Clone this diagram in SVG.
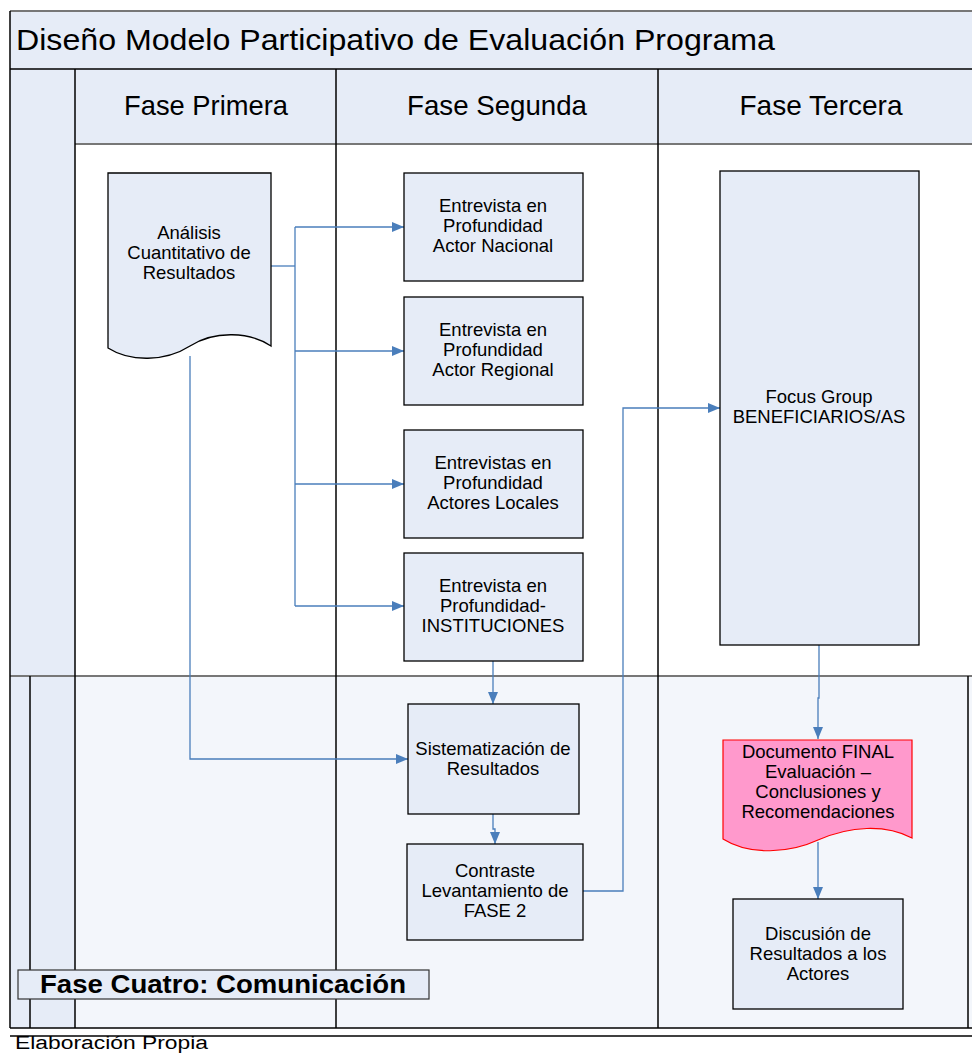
<svg xmlns="http://www.w3.org/2000/svg" width="972" height="1053" viewBox="0 0 972 1053">
<defs>
<style>
.t{font-family:"Liberation Sans",Arial,sans-serif;fill:#000;text-anchor:middle}
.n{font-size:18.5px}
.h{font-size:28px}
.node{fill:#E6ECF7;stroke:#000;stroke-width:1.3}
.c{fill:none;stroke:#4A7EBB;stroke-width:1.3}
.ln{stroke:#000;stroke-width:1.5;fill:none}
.gl{stroke:#777;stroke-width:2;fill:none}
</style>
<marker id="a" markerWidth="12" markerHeight="10" refX="12" refY="5" orient="auto" markerUnits="userSpaceOnUse">
<path d="M0,0 L12,5 L0,10 Z" fill="#4A7EBB"/>
</marker>
</defs>
<rect width="972" height="1053" fill="#fff"/>
<g id="pool">
<rect x="10" y="11" width="962" height="58" fill="#E6ECF7"/>
<line x1="10" y1="11" x2="972" y2="11" class="gl"/>
<rect x="10" y="69" width="962" height="75" fill="#E6ECF7"/>
<rect x="10" y="144" width="65" height="532" fill="#E6ECF7"/>
<rect x="10" y="676" width="962" height="352" fill="#F3F6FB"/>
<rect x="10" y="676" width="65" height="352" fill="#E6ECF7"/>
<line x1="10" y1="69" x2="972" y2="69" class="ln" stroke-width="2"/>
<line x1="75" y1="144" x2="972" y2="144" class="gl" stroke-width="1.5"/>
<line x1="10" y1="676" x2="972" y2="676" class="gl" stroke-width="2.5"/>
<line x1="10" y1="11" x2="10" y2="1028" class="ln" stroke-width="2"/>
<line x1="75" y1="69" x2="75" y2="1028" class="ln"/>
<line x1="336" y1="69" x2="336" y2="1028" class="ln"/>
<line x1="658" y1="69" x2="658" y2="1028" class="ln"/>
<line x1="30" y1="676" x2="30" y2="1028" class="ln" stroke="#555"/>
<line x1="968" y1="676" x2="968" y2="1028" class="ln" stroke="#555"/>
<line x1="10" y1="1028" x2="972" y2="1028" class="ln" stroke="#333" stroke-width="2.5"/>
<line x1="10" y1="1036" x2="972" y2="1036" class="ln" stroke="#333" stroke-width="1"/>
<text x="16" y="50" style="font-family:'Liberation Sans',Arial,sans-serif;font-size:30px" textLength="759" lengthAdjust="spacingAndGlyphs">Diseño Modelo Participativo de Evaluación Programa</text>
<text x="206" y="115" class="t h" textLength="164" lengthAdjust="spacingAndGlyphs">Fase Primera</text>
<text x="497" y="115" class="t h" textLength="180" lengthAdjust="spacingAndGlyphs">Fase Segunda</text>
<text x="821" y="115" class="t h" textLength="163" lengthAdjust="spacingAndGlyphs">Fase Tercera</text>
<text x="15" y="1049" style="font-family:'Liberation Sans',Arial,sans-serif;font-size:18px" textLength="193" lengthAdjust="spacingAndGlyphs">Elaboración Propia</text>
</g>
<g id="connectors">
<polyline class="c" points="271,266 295,266"/>
<polyline class="c" points="295,227 295,606"/>
<polyline class="c" points="295,227 404,227" marker-end="url(#a)"/>
<polyline class="c" points="295,351 404,351" marker-end="url(#a)"/>
<polyline class="c" points="295,484 404,484" marker-end="url(#a)"/>
<polyline class="c" points="295,606 404,606" marker-end="url(#a)"/>
<polyline class="c" points="190,356 190,759 408,759" marker-end="url(#a)"/>
<polyline class="c" points="493,661 493,704" marker-end="url(#a)"/>
<polyline class="c" points="493,814 493,829 495,829 495,844" marker-end="url(#a)"/>
<polyline class="c" points="583,891 623,891 623,408 720,408" marker-end="url(#a)"/>
<polyline class="c" points="819,645 819,698 818,698 818,739" marker-end="url(#a)"/>
<polyline class="c" points="818,842 818,899" marker-end="url(#a)"/>
</g>
<g id="analisis">
<path class="node" d="M108,173 H271 V346 C250,332 215,330 190,346 C165,362 130,362 108,348 Z"/>
<text class="t n" x="189" y="239">Análisis</text>
<text class="t n" x="189" y="259">Cuantitativo de</text>
<text class="t n" x="189" y="279">Resultados</text>
</g>
<g id="nacional">
<rect class="node" x="404" y="173" width="179" height="108"/>
<text class="t n" x="493" y="212">Entrevista en</text>
<text class="t n" x="493" y="232">Profundidad</text>
<text class="t n" x="493" y="252">Actor Nacional</text>
</g>
<g id="regional">
<rect class="node" x="404" y="297" width="179" height="108"/>
<text class="t n" x="493" y="336">Entrevista en</text>
<text class="t n" x="493" y="356">Profundidad</text>
<text class="t n" x="493" y="376">Actor Regional</text>
</g>
<g id="locales">
<rect class="node" x="404" y="430" width="179" height="108"/>
<text class="t n" x="493" y="469">Entrevistas en</text>
<text class="t n" x="493" y="489">Profundidad</text>
<text class="t n" x="493" y="509">Actores Locales</text>
</g>
<g id="instituciones">
<rect class="node" x="404" y="553" width="179" height="108"/>
<text class="t n" x="493" y="592">Entrevista en</text>
<text class="t n" x="493" y="612">Profundidad-</text>
<text class="t n" x="493" y="632">INSTITUCIONES</text>
</g>
<g id="focus">
<rect class="node" x="720" y="171" width="199" height="474"/>
<text class="t n" x="819" y="403">Focus Group</text>
<text class="t n" x="819" y="423">BENEFICIARIOS/AS</text>
</g>
<g id="sistematizacion">
<rect class="node" x="408" y="704" width="171" height="110"/>
<text class="t n" x="493" y="755">Sistematización de</text>
<text class="t n" x="493" y="775">Resultados</text>
</g>
<g id="contraste">
<rect class="node" x="407" y="844" width="176" height="96"/>
<text class="t n" x="495" y="877">Contraste</text>
<text class="t n" x="495" y="897">Levantamiento de</text>
<text class="t n" x="495" y="917">FASE 2</text>
</g>
<g id="documento">
<path d="M723,740 H912 V838 C885,824 850,826 818,840 C790,853 750,856 723,839 Z" fill="#FF99CC" stroke="#FF0000" stroke-width="1.2"/>
<text class="t n" x="818" y="758">Documento FINAL</text>
<text class="t n" x="818" y="778">Evaluación –</text>
<text class="t n" x="818" y="798">Conclusiones y</text>
<text class="t n" x="818" y="818">Recomendaciones</text>
</g>
<g id="discusion">
<rect class="node" x="733" y="899" width="170" height="110"/>
<text class="t n" x="818" y="940">Discusión de</text>
<text class="t n" x="818" y="960">Resultados a los</text>
<text class="t n" x="818" y="980">Actores</text>
</g>
<g id="fase4">
<rect x="18" y="970" width="411" height="29" fill="#E6ECF7" stroke="#333" stroke-width="1.2"/>
<text x="40" y="993" style="font-family:'Liberation Sans',Arial,sans-serif;font-size:25px;font-weight:bold" textLength="366" lengthAdjust="spacingAndGlyphs">Fase Cuatro: Comunicación</text>
</g>
</svg>
